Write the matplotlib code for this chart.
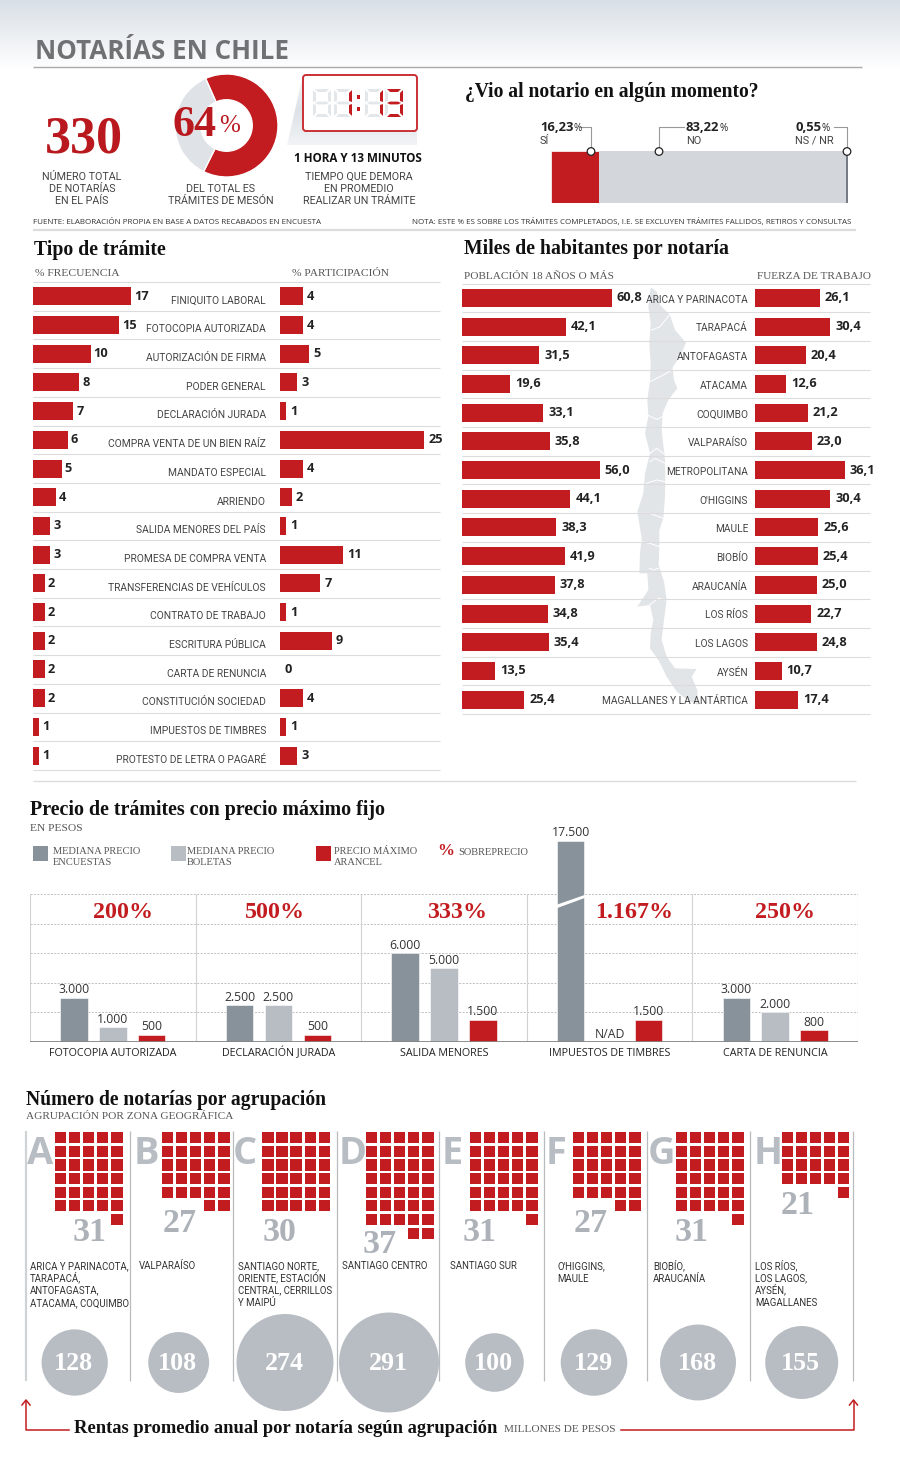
import numpy as np
import matplotlib
matplotlib.use("Agg")
import matplotlib.pyplot as plt
from matplotlib.patches import Circle, FancyBboxPatch, Polygon, Rectangle

# ── Data ─────────────────────────────────────────────────────────────────────
TRAMITES = [
    "FINIQUITO LABORAL", "FOTOCOPIA AUTORIZADA", "AUTORIZACIÓN DE FIRMA",
    "PODER GENERAL", "DECLARACIÓN JURADA", "COMPRA VENTA DE UN BIEN RAÍZ",
    "MANDATO ESPECIAL", "ARRIENDO", "SALIDA MENORES DEL PAÍS",
    "PROMESA DE COMPRA VENTA", "TRANSFERENCIAS DE VEHÍCULOS",
    "CONTRATO DE TRABAJO", "ESCRITURA PÚBLICA", "CARTA DE RENUNCIA",
    "CONSTITUCIÓN SOCIEDAD", "IMPUESTOS DE TIMBRES", "PROTESTO DE LETRA O PAGARÉ",
]
FRECUENCIA = [17, 15, 10, 8, 7, 6, 5, 4, 3, 3, 2, 2, 2, 2, 2, 1, 1]
PARTICIPACION = [4, 4, 5, 3, 1, 25, 4, 2, 1, 11, 7, 1, 9, 0, 4, 1, 3]

REGIONES = [
    "ARICA Y PARINACOTA", "TARAPACÁ", "ANTOFAGASTA", "ATACAMA", "COQUIMBO",
    "VALPARAÍSO", "METROPOLITANA", "O'HIGGINS", "MAULE", "BIOBÍO", "ARAUCANÍA",
    "LOS RÍOS", "LOS LAGOS", "AYSÉN", "MAGALLANES Y LA ANTÁRTICA",
]
POBLACION = [60.8, 42.1, 31.5, 19.6, 33.1, 35.8, 56.0, 44.1, 38.3, 41.9, 37.8, 34.8, 35.4, 13.5, 25.4]
FUERZA = [26.1, 30.4, 20.4, 12.6, 21.2, 23.0, 36.1, 30.4, 25.6, 25.4, 25.0, 22.7, 24.8, 10.7, 17.4]

VIO_VALUES = [16.23, 83.22, 0.55]

PRECIO_TRAMITES = ["FOTOCOPIA AUTORIZADA", "DECLARACIÓN JURADA", "SALIDA MENORES",
                   "IMPUESTOS DE TIMBRES", "CARTA DE RENUNCIA"]
ENCUESTAS = [3000, 2500, 6000, 17500, 3000]
BOLETAS = [1000, 2500, 5000, 0, 2000]
ARANCEL = [500, 500, 1500, 1500, 800]
SOBREPRECIO = ["200%", "500%", "333%", "1.167%", "250%"]
ALTURA_CORTE = 13600  # the 17.500 bar is drawn broken

ZONAS = list("ABCDEFGH")
ZONA_NOTARIAS = [31, 27, 30, 37, 31, 27, 31, 21]
ZONA_RENTAS = [128, 108, 274, 291, 100, 129, 168, 155]
ZONA_TEXTOS = [
    ["ARICA Y PARINACOTA,", "TARAPACÁ,", "ANTOFAGASTA,", "ATACAMA, COQUIMBO"],
    ["VALPARAÍSO"],
    ["SANTIAGO NORTE,", "ORIENTE, ESTACIÓN", "CENTRAL, CERRILLOS", "Y MAIPÚ"],
    ["SANTIAGO CENTRO"],
    ["SANTIAGO SUR"],
    ["O'HIGGINS,", "MAULE"],
    ["BIOBÍO,", "ARAUCANÍA"],
    ["LOS RÍOS,", "LOS LAGOS,", "AYSÉN,", "MAGALLANES"],
]

# ── Style ────────────────────────────────────────────────────────────────────
RED = "#c21c20"
DARK = "#87929b"
LIGHT = "#b8bdc3"
SERIF = "Liberation Serif"
SANS = "Open Sans"
NARROW = "Roboto"
W, H = 900, 1466

fig = plt.figure(figsize=(W / 100, H / 100), dpi=100, facecolor="white")


def px_axes(x0, y0, x1, y1, **kw):
    a = fig.add_axes([x0 / W, 1 - y1 / H, (x1 - x0) / W, (y1 - y0) / H], **kw)
    a.set_axis_off()
    return a


page = px_axes(0, 0, W, H, zorder=5)
page.patch.set_visible(False)
page.set_xlim(0, W)
page.set_ylim(H, 0)
page.set_autoscale_on(False)


def txt(x, y, s, size, font=SANS, color="#444444", ha="left", weight="normal"):
    # y is the middle of the capitals, so accents do not shift a line
    return page.text(x, y + 0.36 * size, s, fontsize=size * 0.72, family=font, color=color,
                     ha=ha, va="baseline", fontweight=weight)


def rule(x0, x1, y, color="#dcdcdc", lw=0.8):
    page.plot([x0, x1], [y, y], color=color, lw=lw, solid_capstyle="butt")


def head(x, y, s, size=19.8):
    txt(x, y, s, size, font=SERIF, color="#111111", weight="bold")


def sub(x, y, s, size=11.5, color="#555555"):
    txt(x, y, s, size, font=SERIF, color=color)


def comma(v):
    return f"{v:.1f}".replace(".", ",")


def dots(v):
    return f"{v:,}".replace(",", ".")


def hbars(x0, x1, y0, y1, values, scale, labels, height, pad):
    a = px_axes(x0, y0, x1, y1)
    bars = a.barh(range(len(values)), values, height=height, color=RED, edgecolor="none")
    a.set_xlim(0, (x1 - x0) / scale)
    a.set_ylim(len(values) - 0.5, -0.5)
    a.bar_label(bars, labels=labels, padding=pad, fontsize=9.2, family=SANS,
                fontweight="bold", color="#222222")
    return a


# ── Header ───────────────────────────────────────────────────────────────────
page.imshow(np.linspace(0, 1, 70)[:, None], extent=(0, W, 70, 0), aspect="auto",
            cmap=matplotlib.colors.LinearSegmentedColormap.from_list("h", ["#d9dfe6", "#ffffff"]))
txt(35, 50, "NOTARÍAS EN CHILE", 26, color="#707172", weight="bold")
rule(33, 862, 67, color="#a9abae", lw=1)

txt(84, 134, "330", 52, font=SERIF, color="#b9191e", ha="center", weight="bold")
for y, s in zip([176, 188, 200], ["NÚMERO TOTAL", "DE NOTARÍAS", "EN EL PAÍS"]):
    txt(82, y, s, 10.7, font=NARROW, ha="center")

donut = px_axes(175, 74, 278, 177)
donut.pie([64, 36], colors=[RED, "#dfe2e6"], startangle=114, counterclock=False,
          radius=1, wedgeprops=dict(width=0.5, edgecolor="white", linewidth=1))
donut.set_xlim(-1, 1)
donut.set_ylim(-1, 1)
txt(173, 120, "64", 44, font=SERIF, color="#b9191e", weight="bold")
txt(219, 123, "%", 25, font=SERIF, color="#b9191e")
for y, s in zip([188, 200], ["DEL TOTAL ES", "TRÁMITES DE MESÓN"]):
    txt(221, y, s, 10.8, font=NARROW, ha="center")

# clock
fade = matplotlib.colors.LinearSegmentedColormap.from_list("s", ["#f2f4f6", "#dde2e7", "#f2f4f6"])
shadow = page.imshow(np.linspace(0, 1, 60)[:, None], extent=(285, 420, 146, 74), aspect="auto", cmap=fade)
shadow.set_clip_path(Polygon([(303, 75), (287, 145), (417, 145), (417, 75)],
                             transform=page.transData))
page.add_patch(FancyBboxPatch((303, 75), 114, 56, boxstyle="round,pad=0,rounding_size=3",
                              fc="white", ec="#cb3035", lw=1.4))
SEG = {
    "a": [(2, 0), (16, 0), (13, 3), (5, 3)],
    "b": [(18, 1), (18, 13), (15, 12), (15, 4)],
    "c": [(18, 15), (18, 27), (15, 24), (15, 16)],
    "d": [(2, 28), (16, 28), (13, 25), (5, 25)],
    "e": [(0, 15), (0, 27), (3, 24), (3, 16)],
    "f": [(0, 1), (0, 13), (3, 12), (3, 4)],
    "g": [(2, 14), (5, 12.6), (13, 12.6), (16, 14), (13, 15.4), (5, 15.4)],
}
for dx, lit in zip([313, 334, 365, 385], ["", "bc", "bc", "abcdg"]):
    for name, pts in SEG.items():
        c = RED if name in lit else "#e4e7ea"
        page.add_patch(Polygon([(dx + p[0], 89 + p[1]) for p in pts], fc=c, ec="none"))
for cy in [97, 109]:
    page.add_patch(Rectangle((356.5, cy - 2), 3.5, 4, fc=RED, ec="none"))

txt(358, 158, "1 HORA Y 13 MINUTOS", 11.6, color="#111111", ha="center", weight="bold")
for y, s in zip([176, 188, 200], ["TIEMPO QUE DEMORA", "EN PROMEDIO", "REALIZAR UN TRÁMITE"]):
    txt(359, y, s, 10.8, font=NARROW, ha="center")

txt(33, 221, "FUENTE: ELABORACIÓN PROPIA EN BASE A DATOS RECABADOS EN ENCUESTA", 8.05, color="#333333")
txt(412, 221, "NOTA: ESTE % ES SOBRE LOS TRÁMITES COMPLETADOS, I.E. SE EXCLUYEN TRÁMITES FALLIDOS, RETIROS Y CONSULTAS",
    8.05, color="#333333")
rule(33, 856, 229.5, lw=1.6)

# ── ¿Vio al notario? ─────────────────────────────────────────────────────────
head(465, 90, "¿Vio al notario en algún momento?", 19.7)
vio = px_axes(551, 151, 848, 203)
left = 0
for v, c in zip(VIO_VALUES, [RED, "#d3d6da", "#777d84"]):
    vio.barh(0, v, left=left, height=1, color=c, edgecolor="white" if c == RED else "none",
             linewidth=0.5)
    left += v
vio.set_xlim(0, 100)
vio.set_ylim(-0.5, 0.5)

for cx, lx, tx, val, name in [
    (591, 580, 540, VIO_VALUES[0], "SÍ"),
    (659, 684, 686, VIO_VALUES[1], "NO"),
    (847, 834, 795, VIO_VALUES[2], "NS / NR"),
]:
    page.plot([cx, cx, lx], [151, 127, 127], color="#999999", lw=0.8)
    page.add_patch(Circle((cx, 151.5), 3.8, fc="white", ec="#222222", lw=0.9, zorder=4))
    t = txt(tx, 126, f"{val:.2f}".replace(".", ","), 13, color="#222222", weight="bold")
    bb = t.get_window_extent(fig.canvas.get_renderer())
    txt(bb.x1 + 0.5, 127, "%", 10, color="#222222")
    txt(tx, 140, name, 11, font=NARROW)

# ── Tipo de trámite ──────────────────────────────────────────────────────────
head(34, 248, "Tipo de trámite")
sub(35, 272, "% FRECUENCIA")
sub(292, 272, "% PARTICIPACIÓN")
ROW = 28.7
for i in range(18):
    rule(33, 440, 282 + i * ROW)
rows_bottom = 282 + 17 * ROW
hbars(33, 280, 282, rows_bottom, FRECUENCIA, 5.76, FRECUENCIA, 0.63, 2.2)
hbars(280, 450, 282, rows_bottom, PARTICIPACION, 5.76, PARTICIPACION, 0.63, 3)
for i, s in enumerate(TRAMITES):
    txt(266, 300 + i * ROW, s, 10.2, font=NARROW, ha="right")

rule(33, 856, 781, lw=1)

# ── Miles de habitantes ──────────────────────────────────────────────────────
MAP_POINTS = np.array([
    (272, 22), (290, 35), (300, 75), (330, 105), (345, 150), (378, 188), (362, 225),
    (338, 262), (342, 300), (352, 325), (325, 360), (308, 400), (305, 450), (310, 495),
    (315, 540), (316, 600), (315, 650), (310, 715), (298, 750), (298, 800), (296, 855),
    (312, 905), (320, 960), (312, 1020), (305, 1080), (320, 1130), (345, 1165), (410, 1167),
    (395, 1190), (412, 1230), (415, 1275), (385, 1262), (350, 1235), (320, 1190), (295, 1140),
    (270, 1105), (272, 1060), (280, 1020), (270, 975), (232, 980), (265, 930), (262, 880),
    (238, 880), (240, 820), (245, 775), (232, 695), (250, 640), (255, 580), (270, 520),
    (255, 460), (265, 410), (262, 360), (270, 300), (272, 250), (268, 190), (272, 130), (265, 80),
])
MAP_BORDERS = [
    [(275, 150), (300, 140), (328, 105)], [(270, 305), (310, 285), (340, 268)],
    [(262, 405), (290, 418), (308, 410)], [(270, 520), (290, 505), (310, 520)],
    [(270, 545), (285, 535), (316, 550)], [(258, 610), (290, 600), (316, 605)],
    [(235, 700), (270, 700), (310, 715)], [(242, 785), (270, 790), (298, 800)],
    [(268, 865), (280, 870), (296, 865)], [(268, 975), (295, 955), (318, 960)],
]
to_px = lambda pts: np.asarray(pts) / 3 + (560, 280)
page.add_patch(Polygon(to_px(MAP_POINTS), fc="#e2e5e8", ec="none"))
for b in MAP_BORDERS:
    xy = to_px(b)
    page.plot(xy[:, 0], xy[:, 1], color="white", lw=0.7)

head(464, 247, "Miles de habitantes por notaría")
sub(464, 275, "POBLACIÓN 18 AÑOS O MÁS", 11.25)
sub(757, 275, "FUERZA DE TRABAJO", 11.2)
for i in range(16):
    rule(462, 870, 283.5 + i * ROW)
mb = 283.5 + 15 * ROW
hbars(462, 650, 283.5, mb, POBLACION, 2.46, [comma(v) for v in POBLACION], 0.63, 3.5)
hbars(755, 880, 283.5, mb, FUERZA, 2.48, [comma(v) for v in FUERZA], 0.63, 3.5)
for i, s in enumerate(REGIONES):
    txt(748, 299 + i * ROW, s, 10.1, font=NARROW, ha="right")

# ── Precio de trámites ───────────────────────────────────────────────────────
head(30, 808, "Precio de trámites con precio máximo fijo", 20)
sub(30, 827, "EN PESOS")
for x, c, tx, lines in [
    (33, DARK, 53, ["MEDIANA PRECIO", "ENCUESTAS"]),
    (170.5, LIGHT, 187, ["MEDIANA PRECIO", "BOLETAS"]),
    (315.5, RED, 334, ["PRECIO MÁXIMO", "ARANCEL"]),
]:
    page.add_patch(Rectangle((x, 846), 15, 15, fc=c, ec="none"))
    for y, s in zip([850.5, 861], lines):
        sub(tx, y, s, 10.4)
txt(437, 849, "%", 17, font=SERIF, color=RED, weight="bold")
sub(458, 851, "SOBREPRECIO", 10.4)

PX_PER_PESO = 14.8 / 1000
chart = px_axes(30, 810, 858, 1042)
chart.set_xlim(0, len(PRECIO_TRAMITES))
chart.set_ylim(0, 232 / PX_PER_PESO)
chart.hlines([2000, 4000, 6000, 8000, 10000], 0, 5, color="#bdbdbd", lw=0.7, ls=(0, (2, 1.5)), zorder=0)
chart.vlines(range(6), 0, 10000, color="#d2d2d2", lw=0.8, zorder=0)
centers = np.arange(5) + 0.5
BW, OFF = 0.166, 0.235
for offset, vals, c in [(-OFF, ENCUESTAS, DARK), (0, BOLETAS, LIGHT), (OFF, ARANCEL, RED)]:
    shown = [min(v, ALTURA_CORTE) for v in vals]
    bars = chart.bar(centers + offset, shown, width=BW, color=c, edgecolor="white", linewidth=0.4, zorder=2)
    chart.bar_label(bars, labels=[dots(v) if v else "N/AD" for v in vals], padding=1,
                    fontsize=8.8, family=SANS, color="#333333", zorder=3)
chart.axhline(0, color="#858585", lw=2, zorder=4)

page.add_patch(Polygon([(556, 905), (586, 894.5), (586, 897.5), (556, 908.5)], fc="white", ec="none"))
for x, s in zip([123, 275, 457, 634, 785], SOBREPRECIO):
    txt(x, 909, s, 24, font=SERIF, color=RED, ha="center", weight="bold")
for c, s in zip(centers, PRECIO_TRAMITES):
    txt(30 + c * 165.6, 1052, s, 10.8, color="#222222", ha="center")

# ── Número de notarías ───────────────────────────────────────────────────────
head(26, 1098, "Número de notarías por agrupación", 19.6)
sub(26, 1115, "AGRUPACIÓN POR ZONA GEOGRÁFICA", 11.2)

SEP_X = [26, 129.6, 232.7, 336.7, 439.4, 543.7, 646.7, 750.3, 853.3]
for i, x in enumerate(SEP_X):
    page.plot([x, x], [1131, 1381], color="#d0d3d6" if i == 0 else "#b9bcbf",
              lw=1.6 if i == 0 else 0.9, solid_capstyle="butt")

LETTER_X = [27, 134, 233, 339, 442, 546, 648, 754]
WAFFLE_X = [55, 162, 262.3, 366, 470, 573, 676, 781.7]
COUNT_X = [90, 180, 280, 380, 480, 591, 692, 798]
COUNT_Y = [1229, 1220, 1229, 1241, 1229, 1220, 1229, 1202]
TEXT_X = [30, 139, 238, 342, 450, 557, 653, 755]
CIRCLE_X = [74.7, 178.7, 285, 389, 494.5, 594, 698, 801.7]
COLS = 5
for i, n in enumerate(ZONA_NOTARIAS):
    txt(LETTER_X[i], 1150, ZONAS[i], 38, color=LIGHT, weight="bold")
    full_rows, extra = divmod(n, COLS)
    for k in range(n):
        row, col = divmod(k, COLS)
        if row == full_rows:
            col = COLS - extra + col
        page.add_patch(Rectangle((WAFFLE_X[i] + col * 14.08, 1132 + row * 13.65), 11.2, 11.2,
                                 fc=RED, ec="none"))
    txt(COUNT_X[i], COUNT_Y[i], str(n), 34, font=SERIF, color="#adb2b8", ha="center", weight="bold")
    for j, s in enumerate(ZONA_TEXTOS[i]):
        txt(TEXT_X[i], 1266 + j * 12.1, s, 9.7, font=NARROW, color="#333333")
    r = 2.93 * np.sqrt(ZONA_RENTAS[i])
    page.add_patch(Circle((CIRCLE_X[i], 1362.5), r, fc=LIGHT, ec="none"))
    txt(CIRCLE_X[i] - 1, 1361, str(ZONA_RENTAS[i]), 26, font=SERIF, color="white", ha="center", weight="bold")

# bottom arrows
for xs, ys in [([69, 26, 26], [1429.5, 1429.5, 1401]), ([621, 853.5, 853.5], [1429.5, 1429.5, 1401])]:
    page.plot(xs, ys, color=RED, lw=1.1)
    page.plot([xs[-1] - 4, xs[-1], xs[-1] + 4], [1405, 1400, 1405], color=RED, lw=1.1)
head(74, 1426, "Rentas promedio anual por notaría según agrupación", 18.5)
sub(504, 1427.5, "MILLONES DE PESOS", 11.2)

fig.savefig("out.png", dpi=100)
